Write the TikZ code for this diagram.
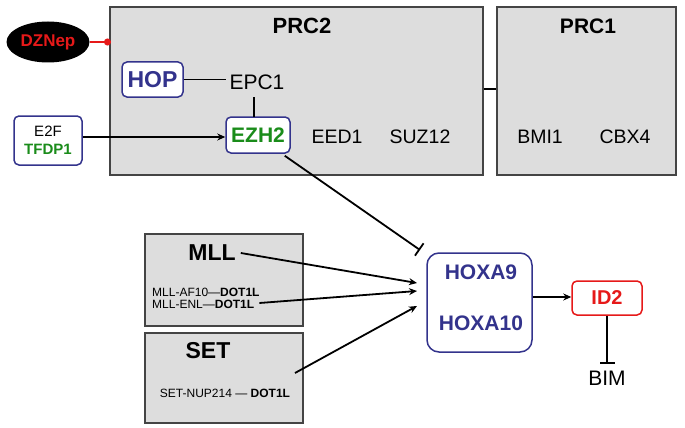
\documentclass[tikz,border=0pt]{standalone}
\usepackage{fontspec}
\setmainfont{Liberation Sans}
\usetikzlibrary{arrows.meta,shapes.geometric}
\definecolor{gbox}{HTML}{DDDDDD}
\definecolor{gline}{HTML}{444444}
\definecolor{hblue}{HTML}{33338C}
\definecolor{hgreen}{HTML}{1A8C1A}
\definecolor{hred}{HTML}{E61919}
\newcommand{\fs}[1]{\fontsize{#1}{#1}\selectfont}
\begin{document}
\begin{tikzpicture}[x=1pt,y=-1pt,
  grp/.style={draw=gline,fill=gbox,line width=1.2pt,inner sep=0pt},
  bbox/.style={draw=hblue,fill=white,rounded corners=5pt,line width=1.5pt,inner sep=0pt},
  rbox/.style={draw=hred,fill=white,rounded corners=5pt,line width=1.5pt,inner sep=0pt},
  lbl/.style={inner sep=0pt,anchor=center},
  conn/.style={line width=1.8pt},
  arr/.style={conn,-{Stealth[length=8pt,width=7pt]}},
  inh/.style={conn,-{Bar[width=15pt]}}]
\useasboundingbox (0,0) rectangle (685,428);
% groups
\node[grp,minimum width=373pt,minimum height=168pt] (prc2) at (296.5,91) {};
\node[grp,minimum width=179pt,minimum height=168pt] (prc1) at (586.5,91) {};
\node[grp,minimum width=158pt,minimum height=92pt] (mll) at (224,280) {};
\node[grp,minimum width=158pt,minimum height=90pt] (set) at (224,378) {};
\node[lbl,font=\fs{22}\bfseries] (prc2l) at (302,26) {PRC2};
\node[lbl,font=\fs{21}\bfseries] (prc1l) at (588,26) {PRC1};
% DZNep
\node[ellipse,fill=black,minimum width=83pt,minimum height=41pt,inner sep=0pt,text=hred,font=\fs{17}\bfseries] (dz) at (48,42) {DZNep};
\coordinate (dzend) at (111,42);
\draw[conn,hred,-{Circle[length=7pt]}] (dz.east) -- (dzend);
% PRC2 members
\node[bbox,minimum width=61pt,minimum height=35pt,text=hblue,font=\fs{23}\bfseries] (hop) at (152.5,79.5) {HOP};
\node[lbl,font=\fs{21}] (epc1) at (257,82) {EPC1};
\node[bbox,minimum width=64pt,minimum height=36pt,text=hgreen,font=\fs{21}\bfseries] (ezh2) at (258,135) {EZH2};
\node[lbl,font=\fs{19.5}] (eed1) at (337,137) {EED1};
\node[lbl,font=\fs{19.5}] (suz12) at (420,137) {SUZ12};
\node[lbl,font=\fs{19.5}] (bmi1) at (540,137) {BMI1};
\node[lbl,font=\fs{19.5}] (cbx4) at (625,137) {CBX4};
\node[bbox,minimum width=68pt,minimum height=49pt,align=center,font=\fs{15}] (e2f) at (48,140.5) {E2F\\[3pt]\textcolor{hgreen}{\bfseries TFDP1}};
\draw[conn] (hop.east) -- ([xshift=-3pt]epc1.west |- hop.east);
\draw[conn] (254,97) -- (254,117);
\draw[arr] (e2f.east |- 0,137) -- (ezh2.west |- 0,137);
\draw[conn] (prc2.east |- 0,89) -- (prc1.west |- 0,89);
% MLL / SET
\node[lbl,font=\fs{23}\bfseries] (mlll) at (212,253) {MLL};
\node[lbl,anchor=west,font=\fs{12}] (af10) at (152,292) {MLL-AF10—\textbf{DOT1L}};
\node[lbl,anchor=west,font=\fs{12}] (enl) at (152,304) {MLL-ENL—\textbf{DOT1L}};
\node[lbl,font=\fs{23}\bfseries] (setl) at (208,351) {SET};
\node[lbl,font=\fs{12}] (nup) at (225,393) {SET-NUP214 — \textbf{DOT1L}};
% HOXA
\node[bbox,rounded corners=12pt,minimum width=105pt,minimum height=99pt] (hoxa) at (479.5,302.5) {};
\node[lbl,text=hblue,font=\fs{21}\bfseries] (hoxa9) at (481,272) {HOXA9};
\node[lbl,text=hblue,font=\fs{21}\bfseries] (hoxa10) at (481,323) {HOXA10};
\node[rbox,minimum width=70pt,minimum height=34pt,text=hred,font=\fs{20}\bfseries] (id2) at (607,298) {ID2};
\node[lbl,font=\fs{21}] (bim) at (607,378) {BIM};
% connectors
\coordinate (a1) at (417,283);
\coordinate (a2) at (417,291);
\coordinate (a3) at (417,306);
\draw[arr] ([xshift=5pt]mlll.east) -- (a1);
\draw[arr] ([xshift=5pt,yshift=1pt]enl.east) -- (a2);
\draw[arr] (295,373) -- (a3);
\coordinate (ezhend) at (420,250);
\draw[inh] (ezh2.south east) ++(-6pt,-2pt) -- (ezhend);
\draw[arr] (hoxa.east |- 0,297) -- (id2.west |- 0,297);
\draw[inh] (id2.south) -- ([yshift=7pt]bim.north);
\end{tikzpicture}
\end{document}
